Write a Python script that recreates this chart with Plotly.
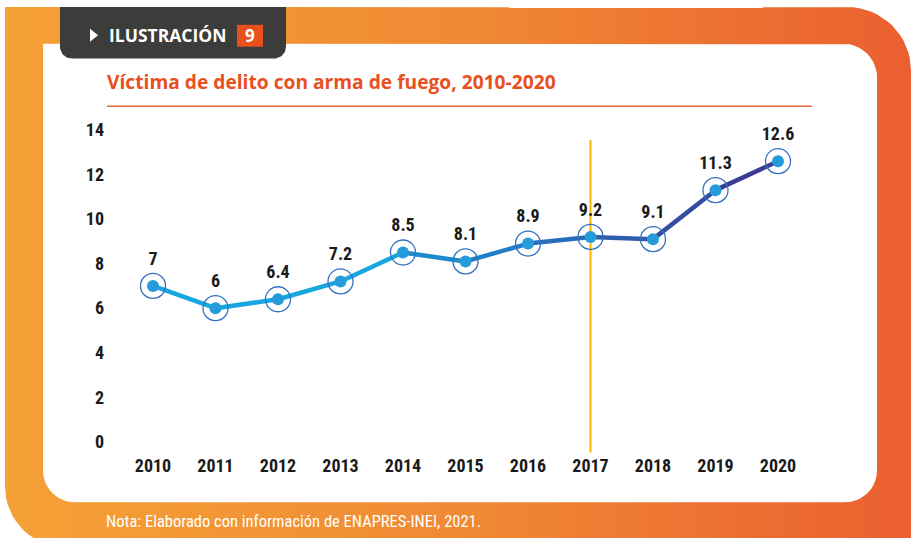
import plotly.graph_objects as go
import math

# ---- data ----
years = [2010, 2011, 2012, 2013, 2014, 2015, 2016, 2017, 2018, 2019, 2020]
values = [7, 6, 6.4, 7.2, 8.5, 8.1, 8.9, 9.2, 9.1, 11.3, 12.6]
value_labels = ["7", "6", "6.4", "7.2", "8.5", "8.1", "8.9", "9.2", "9.1", "11.3", "12.6"]
y_ticks = [0, 2, 4, 6, 8, 10, 12, 14]
highlight_year = 2017

title_text = "Víctima de delito con arma de fuego, 2010-2020"
tab_text = "ILUSTRACIÓN"
tab_number = "9"
note_text = "Nota: Elaborado con información de ENAPRES-INEI, 2021."

W, H = 911, 538
NARROW = "Liberation Sans Narrow, Roboto Condensed, DejaVu Sans Condensed, Arial Narrow, sans-serif"


def px(x):
    return x / W


def py(y):
    return 1 - y / H


def rounded_poly(x0, y0, x1, y1, r_tl, r_tr, r_br, r_bl, n=16):
    """Polygon in pixel coords (y down) for a rect with per-corner radii."""
    pts = []

    def arc(cx, cy, r, a0, a1):
        out = []
        for i in range(n + 1):
            a = a0 + (a1 - a0) * i / n
            out.append((cx + r * math.cos(a), cy + r * math.sin(a)))
        return out

    pts += arc(x0 + r_tl, y0 + r_tl, r_tl, math.pi, 1.5 * math.pi) if r_tl else [(x0, y0)]
    pts += arc(x1 - r_tr, y0 + r_tr, r_tr, 1.5 * math.pi, 2 * math.pi) if r_tr else [(x1, y0)]
    pts += arc(x1 - r_br, y1 - r_br, r_br, 0, 0.5 * math.pi) if r_br else [(x1, y1)]
    pts += arc(x0 + r_bl, y1 - r_bl, r_bl, 0.5 * math.pi, math.pi) if r_bl else [(x0, y1)]
    pts.append(pts[0])
    return [p[0] for p in pts], [p[1] for p in pts]


def lerp_color(c0, c1, t):
    a = [int(c0[i:i + 2], 16) for i in (1, 3, 5)]
    b = [int(c1[i:i + 2], 16) for i in (1, 3, 5)]
    c = [round(a[i] + (b[i] - a[i]) * t) for i in range(3)]
    return "#%02x%02x%02x" % tuple(c)


fig = go.Figure()

# ---- decorative frame (subplot xy, pixel coordinates) ----
deco = dict(xaxis="x", yaxis="y", hoverinfo="skip", showlegend=False, mode="lines")

ox, oy = rounded_poly(5, 3, 911, 548, 0, 64, 0, 62)
fig.add_trace(go.Scatter(x=ox, y=oy, fill="toself", line=dict(width=0),
                         fillgradient=dict(type="horizontal",
                                           colorscale=[[0, "#f5a136"], [0.5, "#f08a34"], [1, "#ea5f30"]]),
                         **deco))
wx, wy = rounded_poly(43, 40, 877, 502, 0, 34, 32, 32)
fig.add_trace(go.Scatter(x=wx, y=wy, fill="toself", fillcolor="white", line=dict(width=0), **deco))
tx, ty = rounded_poly(60, 3, 286, 55, 0, 0, 12, 12)
fig.add_trace(go.Scatter(x=tx, y=ty, fill="toself", fillcolor="#3c3c3b", line=dict(width=0), **deco))
bx, by = rounded_poly(237, 21, 263, 43, 0, 0, 0, 0)
fig.add_trace(go.Scatter(x=bx, y=by, fill="toself", fillcolor="#e8501c", line=dict(width=0), **deco))
fig.add_trace(go.Scatter(x=[90, 98, 90, 90], y=[25, 31.5, 38, 25], fill="toself",
                         fillcolor="white", line=dict(width=0), **deco))

# pixel mapping for chart axes
x_left, x_right = 120, 811
y_top, y_bot = 120, 452
x2010, x2020 = 153, 778
ppy = (x2020 - x2010) / (years[-1] - years[0])
y0px, y14px = 441, 127
ppv = (y0px - y14px) / 14
y_lo = -(y_bot - y0px) / ppv
y_hi = 14 + (y14px - y_top) / ppv

# ---- chart (subplot x2y2) ----
fig.add_trace(go.Scatter(x=[highlight_year, highlight_year], y=[y_lo, (y0px - 137) / ppv],
                         mode="lines", line=dict(color="#f7b500", width=2),
                         xaxis="x2", yaxis="y2", showlegend=False, hoverinfo="skip"))

n = len(years)
c_start, c_mid, c_end = "#17a7e0", "#1f86cc", "#3b3c94"
for i in range(n - 1):
    t = i / (n - 2)
    col = lerp_color(c_start, c_mid, t / 0.5) if t <= 0.5 else lerp_color(c_mid, c_end, (t - 0.5) / 0.5)
    if i < 4:
        col = c_start
    fig.add_trace(go.Scatter(x=years[i:i + 2], y=values[i:i + 2], mode="lines",
                             line=dict(color=col, width=4.5), xaxis="x2", yaxis="y2",
                             showlegend=False, hoverinfo="skip"))

fig.add_trace(go.Scatter(x=years, y=values, mode="markers",
                         marker=dict(size=12, color="#259bd9", line=dict(width=0)),
                         xaxis="x2", yaxis="y2", showlegend=False))
fig.add_trace(go.Scatter(x=years, y=values, mode="markers+text",
                         text=value_labels, textposition="top center",
                         textfont=dict(family=NARROW, size=18, color="#1a1a1a", weight="bold"),
                         marker=dict(size=25, symbol="circle-open",
                                     color="#3470c0", line=dict(width=1.3, color="#3470c0")),
                         xaxis="x2", yaxis="y2", showlegend=False))

fig.update_layout(
    width=W, height=H,
    margin=dict(l=0, r=0, t=0, b=0),
    paper_bgcolor="white",
    plot_bgcolor="rgba(0,0,0,0)",
    xaxis=dict(domain=[0, 1], range=[0, W], visible=False, fixedrange=True),
    yaxis=dict(domain=[0, 1], range=[H, 0], visible=False, fixedrange=True),
    xaxis2=dict(domain=[px(x_left), px(x_right)], anchor="y2",
                range=[years[0] - (x2010 - x_left) / ppy, years[-1] + (x_right - x2020) / ppy],
                tickmode="array", tickvals=years, ticktext=[str(y) for y in years],
                showgrid=False, zeroline=False, showline=False, ticks="",
                tickfont=dict(family=NARROW, size=18, color="#1a1a1a", weight="bold")),
    yaxis2=dict(domain=[py(y_bot), py(y_top)], anchor="x2",
                range=[y_lo, y_hi],
                tickmode="array", tickvals=y_ticks, ticktext=[str(v) for v in y_ticks],
                showgrid=False, zeroline=False, showline=False, ticks="",
                ticklabelstandoff=15,
                tickfont=dict(family=NARROW, size=18, color="#1a1a1a", weight="bold")),
    shapes=[
        dict(type="line", xref="paper", yref="paper", x0=px(107), x1=px(812), y0=py(103), y1=py(103),
             line=dict(color="#ec6a3f", width=1.5)),
    ],
    annotations=[
        dict(text="<b>" + tab_text + "</b>", x=px(107), y=py(31), xref="paper", yref="paper",
             xanchor="left", yanchor="middle", showarrow=False,
             font=dict(family="Open Sans, sans-serif", size=17.5, color="white")),
        dict(text="<b>" + tab_number + "</b>", x=px(250), y=py(32), xref="paper", yref="paper",
             xanchor="center", yanchor="middle", showarrow=False,
             font=dict(family="Open Sans, sans-serif", size=17, color="white")),
        dict(text="<b>" + title_text + "</b>", x=px(105), y=py(78), xref="paper", yref="paper",
             xanchor="left", yanchor="middle", showarrow=False,
             font=dict(family="Open Sans, sans-serif", size=19.2, color="#e8501e")),
        dict(text=note_text, x=px(104), y=py(521), xref="paper", yref="paper",
             xanchor="left", yanchor="middle", showarrow=False,
             font=dict(family=NARROW, size=16.5, color="white", weight="normal")),
    ],
)

fig.write_html("out.html", config={"displayModeBar": False, "staticPlot": True},
               post_script="document.body.style.margin='0';document.body.style.overflow='hidden';")
